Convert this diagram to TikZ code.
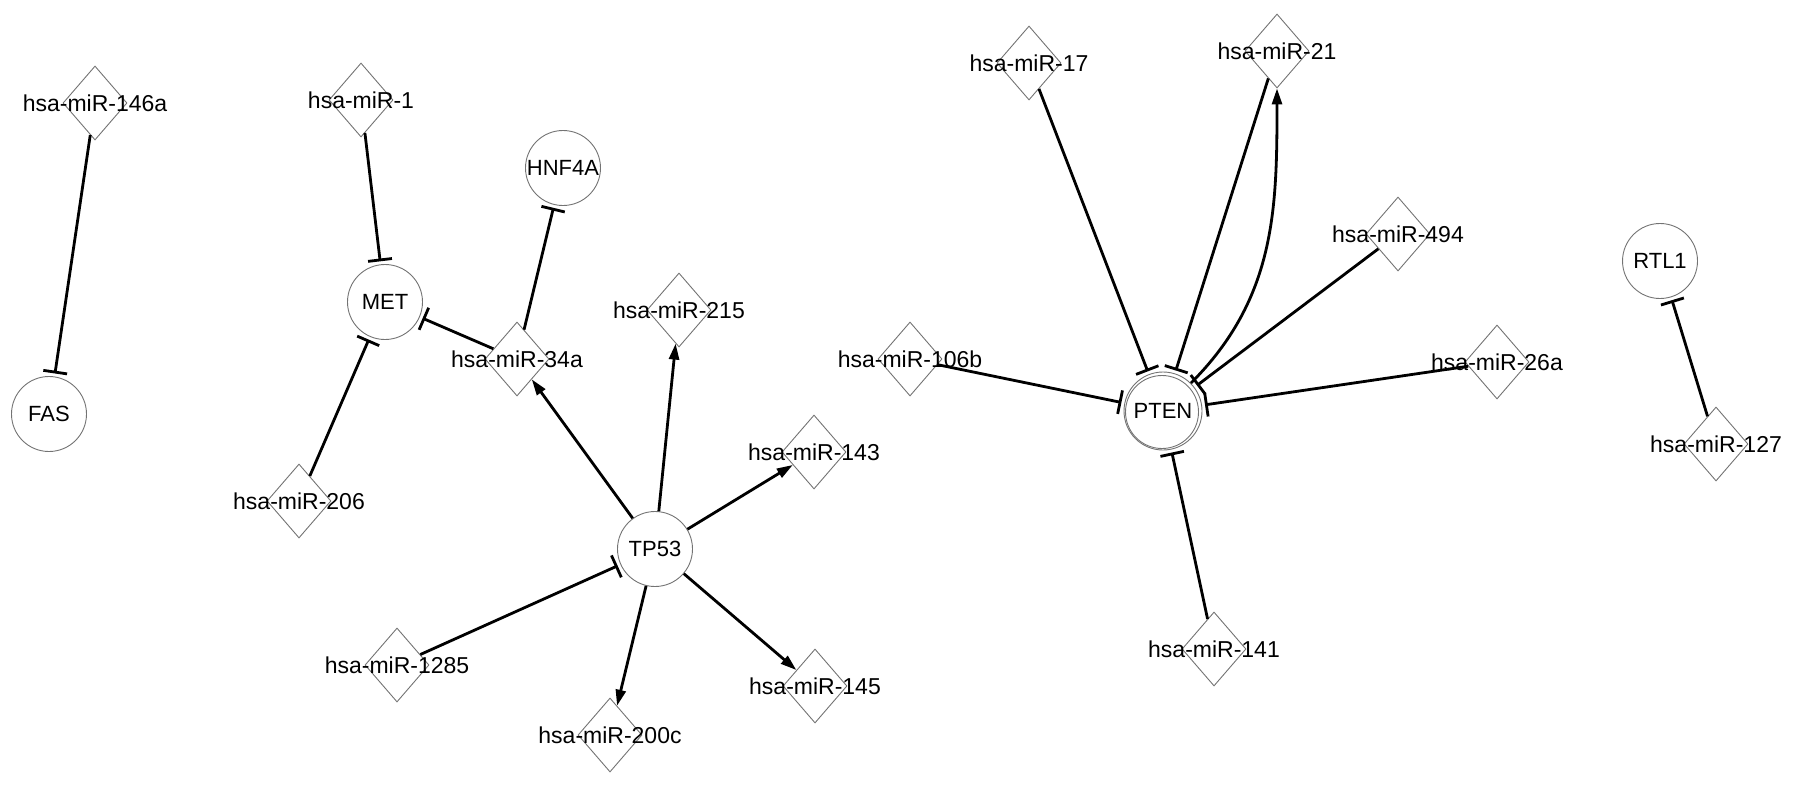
\documentclass[tikz,border=0pt]{standalone}
\usepackage{fontspec}
\setmainfont{Liberation Sans}
\usetikzlibrary{shapes.geometric,arrows.meta}
\begin{document}
\begin{tikzpicture}[x=1pt,y=1pt,
  mir/.style={diamond, draw=black!55, line width=0.9pt, minimum width=64pt, minimum height=74pt, inner sep=0pt, font=\fontsize{23}{23}\selectfont},
  gene/.style={circle, draw=black!55, line width=0.9pt, minimum size=75pt, inner sep=0pt, font=\fontsize{22}{22}\selectfont},
  inh/.style={line width=2.8pt, -{Bar[width=24pt]}, shorten >=3pt},
  act/.style={line width=2.8pt, -{Triangle[length=16pt,width=10pt]}},
]
\useasboundingbox (0,0) rectangle (1795,-787);

% nodes
\node[mir] (m146a) at (95,-103) {\makebox[0pt]{hsa-miR-146a}};
\node[gene] (FAS) at (49,-414) {\makebox[0pt]{FAS}};
\node[mir] (m1) at (361,-100) {\makebox[0pt]{hsa-miR-1}};
\node[gene] (MET) at (385,-302) {\makebox[0pt]{MET}};
\node[gene] (HNF4A) at (563,-168) {\makebox[0pt]{HNF4A}};
\node[mir] (m34a) at (517,-359) {\makebox[0pt]{hsa-miR-34a}};
\node[mir] (m215) at (679,-310) {\makebox[0pt]{hsa-miR-215}};
\node[mir] (m206) at (299,-501) {\makebox[0pt]{hsa-miR-206}};
\node[gene] (TP53) at (655,-549) {\makebox[0pt]{TP53}};
\node[mir] (m143) at (814,-452) {\makebox[0pt]{hsa-miR-143}};
\node[mir] (m145) at (815,-686) {\makebox[0pt]{hsa-miR-145}};
\node[mir] (m1285) at (397,-665) {\makebox[0pt]{hsa-miR-1285}};
\node[mir] (m200c) at (610,-735) {\makebox[0pt]{hsa-miR-200c}};
\node[mir] (m17) at (1029,-63) {\makebox[0pt]{hsa-miR-17}};
\node[mir] (m21) at (1277,-51) {\makebox[0pt]{hsa-miR-21}};
\node[mir] (m106b) at (910,-359) {\makebox[0pt]{hsa-miR-106b}};
\node[gene, minimum size=78pt] (PTEN) at (1163,-411) {\makebox[0pt]{PTEN}};
\node[circle, draw=black!55, line width=0.9pt, minimum size=73pt, inner sep=0pt] (PTENin) at (1162,-412) {};
\node[mir] (m494) at (1398,-234) {\makebox[0pt]{hsa-miR-494}};
\node[mir] (m26a) at (1497,-362) {\makebox[0pt]{hsa-miR-26a}};
\node[mir] (m141) at (1214,-649) {\makebox[0pt]{hsa-miR-141}};
\node[gene] (RTL1) at (1660,-261) {\makebox[0pt]{RTL1}};
\node[mir] (m127) at (1716,-444) {\makebox[0pt]{hsa-miR-127}};

% inhibition edges
\draw[inh] (m146a) -- (FAS);
\draw[inh] (m1) -- (MET);
\draw[inh] (m206) -- (MET);
\draw[inh] (m34a) -- (MET);
\draw[inh] (m34a) -- (HNF4A);
\draw[inh] (m1285) -- (TP53);
\draw[inh] (m17) -- (PTEN);
\draw[inh] (m21) -- (PTEN);
\draw[inh] (m494) -- (PTEN);
\draw[inh] (m106b) -- (PTEN);
\draw[inh] (m26a) -- (PTEN);
\draw[inh] (m141) -- (PTEN);
\draw[inh] (m127) -- (RTL1);

% activation edges
\draw[act] (TP53) -- (m34a);
\draw[act] (TP53) -- (m215);
\draw[act] (TP53) -- (m143);
\draw[act] (TP53) -- (m145);
\draw[act] (TP53) -- (m200c);
\draw[act] (PTEN) to[out=45,in=-90] (m21);
\end{tikzpicture}
\end{document}
